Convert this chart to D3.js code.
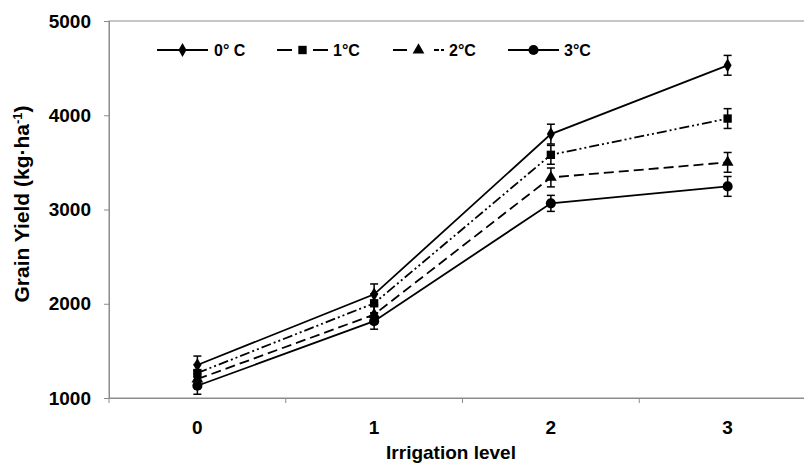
<!DOCTYPE html>
<html>
<head>
<meta charset="utf-8">
<script src="https://cdn.jsdelivr.net/npm/d3@7"></script>
<style>
    body { margin: 0; background: #fff; }
    text { font-family: "Liberation Sans", Arial, sans-serif; font-weight: bold; fill: #000; }
    .tick text { font-size: 19px; }
    .legend_text { font-size: 16px; }
    .axis-title { font-size: 19px; }
    .y-title { font-size: 21px; }
</style>
</head>
<body>
<svg width="804" height="464"></svg>
<script>
// irrigation levels on the x axis
const levels = ['0', '1', '2', '3'];
const yTicks = [1000, 2000, 3000, 4000, 5000];

// grain yield (kg/ha) per temperature increase, with error bar half-widths
const seriesNames = ['0° C', '1°C', '2°C', '3°C'];
const yield0 = [1350, 2100, 3800, 4530];
const yield1 = [1265, 2005, 3580, 3965];
const yield2 = [1200, 1885, 3340, 3500];
const yield3 = [1130, 1815, 3065, 3245];
const err0 = [95, 110, 105, 105];
const err1 = [90, 100, 100, 105];
const err2 = [90, 95, 100, 105];
const err3 = [90, 85, 85, 105];

const svg = d3.select('svg');
const width = +svg.attr('width');
const height = +svg.attr('height');

const axisColor = '#8c8c8c';

const render = () => {
    const series = [
        { name: seriesNames[0], values: yield0, err: err0, dash: null, symbol: d3.symbolDiamond, size: 55, legendDash: null },
        { name: seriesNames[1], values: yield1, err: err1, dash: '10,3,2,3,2,3', symbol: d3.symbolSquare, size: 70, legendDash: '15,21,15' },
        { name: seriesNames[2], values: yield2, err: err2, dash: '10,5', symbol: d3.symbolTriangle, size: 60, legendDash: '14,27,5,2,5' },
        { name: seriesNames[3], values: yield3, err: err3, dash: null, symbol: d3.symbolCircle, size: 80, legendDash: null }
    ];

    const x = d3.scaleBand().domain(levels).range([109, 816]);
    const y = d3.scaleLinear().domain([1000, 5000]).range([398, 21]);
    const cx = d => x(d) + x.bandwidth() / 2;

    // plot frame (top border visible in the original)
    svg.append('rect')
        .attr('x', x.range()[0]).attr('y', y(5000))
        .attr('width', x.range()[1] - x.range()[0])
        .attr('height', y(1000) - y(5000))
        .attr('fill', 'none').attr('stroke', axisColor);

    // y axis
    const yAxis = svg.append('g')
        .attr('transform', `translate(${x.range()[0]},0)`)
        .call(d3.axisLeft(y).tickValues(yTicks).tickFormat(d3.format('d')).tickSize(5).tickPadding(13));
    yAxis.selectAll('line, path').attr('stroke', axisColor);

    // x axis: labels at band centres, tick marks at band edges
    const xAxis = svg.append('g')
        .attr('transform', `translate(0,${y(1000)})`)
        .call(d3.axisBottom(x).tickSize(0).tickPadding(23));
    xAxis.select('.domain').attr('stroke', axisColor);
    xAxis.selectAll('.edge').data(levels.concat(['end']))
        .enter().append('line')
        .attr('class', 'edge')
        .attr('x1', d => d === 'end' ? x.range()[1] : x(d))
        .attr('x2', d => d === 'end' ? x.range()[1] : x(d))
        .attr('y1', 0).attr('y2', 5)
        .attr('stroke', axisColor);

    const line = d3.line()
        .x((d, i) => cx(levels[i]))
        .y(d => y(d));

    const groups = svg.append('g').selectAll('g').data(series).enter().append('g');

    groups.append('path')
        .attr('d', d => line(d.values))
        .attr('fill', 'none')
        .attr('stroke', '#000')
        .attr('stroke-width', 1.8)
        .attr('stroke-dasharray', d => d.dash);

    // error bars
    groups.each(function (s) {
        const g = d3.select(this);
        s.values.forEach((v, i) => {
            const px = cx(levels[i]);
            const top = y(v + s.err[i]);
            const bot = y(v - s.err[i]);
            g.append('line').attr('x1', px).attr('x2', px).attr('y1', top).attr('y2', bot)
                .attr('stroke', '#000').attr('stroke-width', 1.5);
            [top, bot].forEach(yy => {
                g.append('line').attr('x1', px - 4).attr('x2', px + 4).attr('y1', yy).attr('y2', yy)
                    .attr('stroke', '#000').attr('stroke-width', 1.5);
            });
        });
    });

    groups.selectAll('.marker').data(s => s.values.map((v, i) => ({ v, i, s })))
        .enter().append('path')
        .attr('class', 'marker')
        .attr('transform', d => `translate(${cx(levels[d.i])},${y(d.v)})`)
        .attr('d', d => d3.symbol().type(d.s.symbol).size(d.s.size)())
        .attr('fill', '#000');

    // legend
    const legendX = [157, 277, 393, 508];
    const legend = svg.append('g').selectAll('g').data(series).enter().append('g')
        .attr('transform', (d, i) => `translate(${legendX[i]},50)`);

    legend.append('line')
        .attr('x1', 0).attr('x2', 51).attr('y1', 0).attr('y2', 0)
        .attr('stroke', '#000').attr('stroke-width', 1.8)
        .attr('stroke-dasharray', d => d.legendDash);

    legend.append('path')
        .attr('transform', 'translate(25.5,0)')
        .attr('d', d => d3.symbol().type(d.symbol).size(d.size)())
        .attr('fill', '#000');

    legend.append('text')
        .attr('x', (d, i) => i === 0 ? 57 : 56)
        .attr('y', 6)
        .attr('class', 'legend_text')
        .text(d => d.name);

    // axis titles
    const yTitle = svg.append('text')
        .attr('class', 'y-title')
        .attr('text-anchor', 'middle')
        .attr('transform', 'translate(29,204) rotate(-90)');
    yTitle.append('tspan').text('Grain Yield (kg·ha');
    yTitle.append('tspan').attr('baseline-shift', 'super').attr('font-size', '13px').text('-1');
    yTitle.append('tspan').text(')');

    svg.append('text')
        .attr('class', 'axis-title')
        .attr('text-anchor', 'middle')
        .attr('x', 451)
        .attr('y', 459)
        .text('Irrigation level');
};

render();
</script>
</body>
</html>
